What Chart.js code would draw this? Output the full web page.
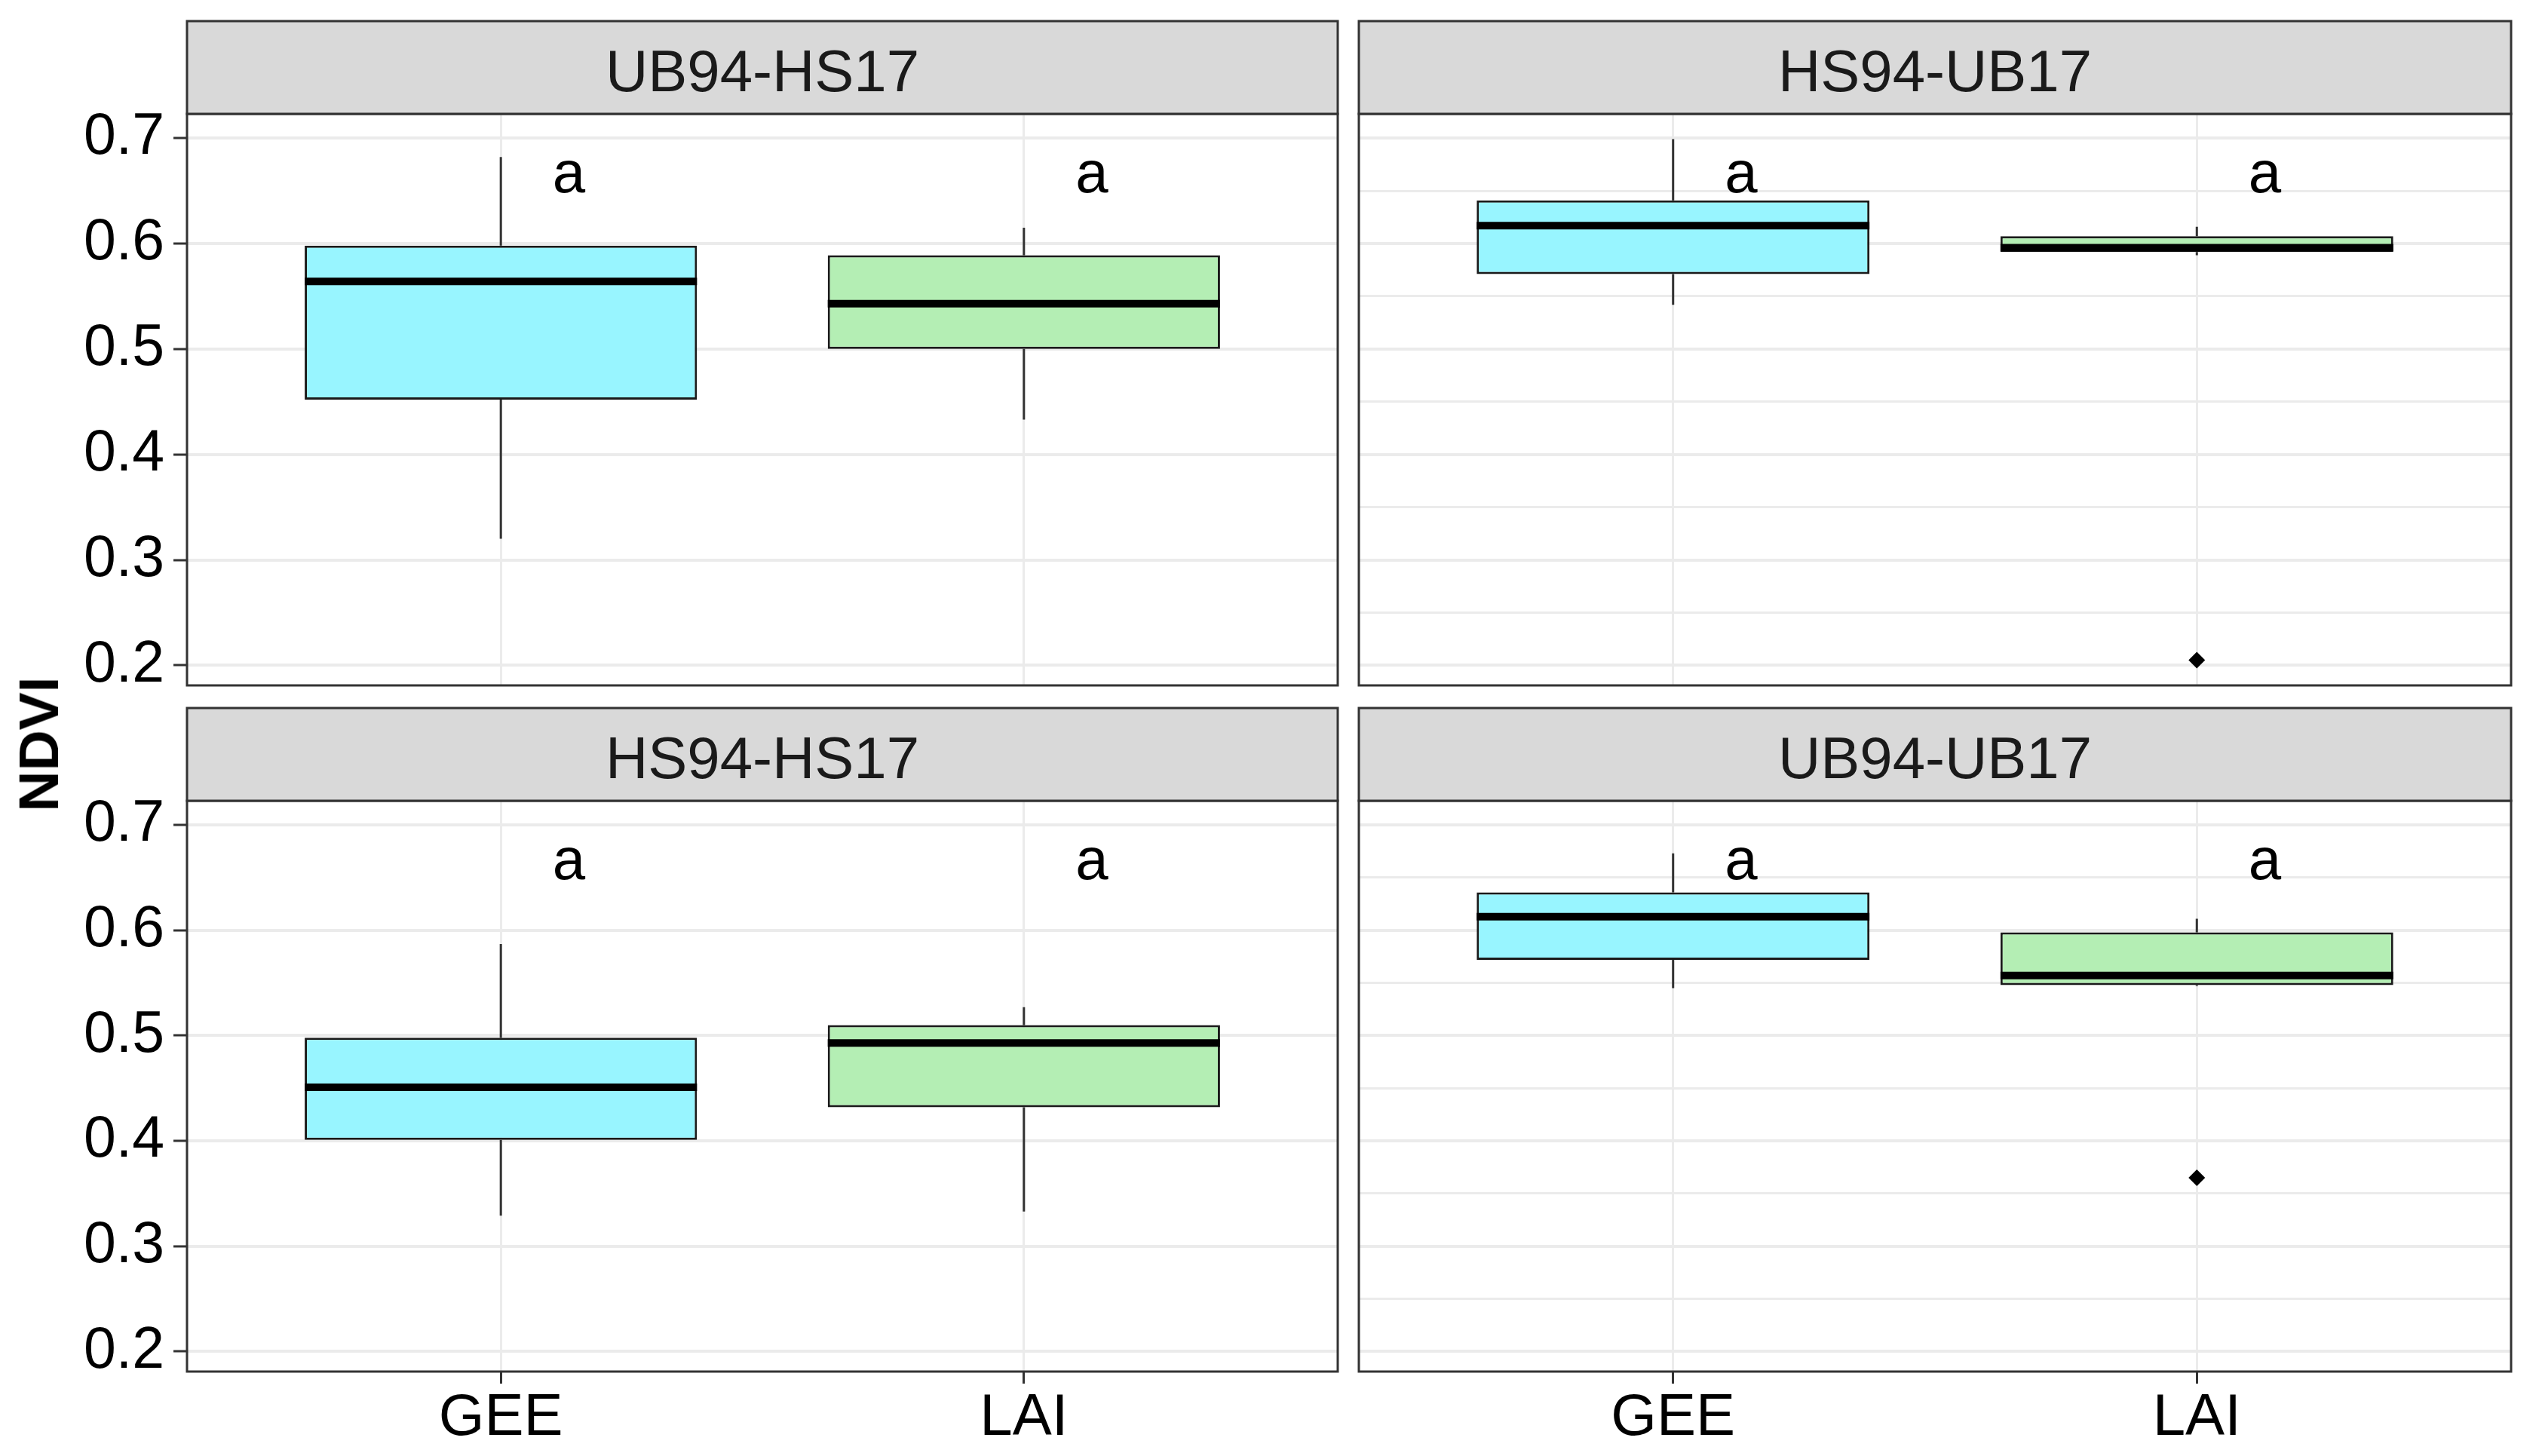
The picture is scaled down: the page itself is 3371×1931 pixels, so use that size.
<!DOCTYPE html>
<html>
<head>
<meta charset="utf-8">
<script src="https://cdn.jsdelivr.net/npm/chart.js@4.4.1/dist/chart.umd.min.js"></script>
<style>
  html, body { margin: 0; padding: 0; background: #fff; }
  #wrap { position: relative; width: 3371px; height: 1931px; overflow: hidden; }
  #wrap canvas { position: absolute; left: 0; top: 0; }
  #ylab {
    position: absolute; left: 51px; top: 987px;
    transform: translate(-50%, -50%) rotate(-90deg);
    font: bold 75px "Liberation Sans", Arial, sans-serif; color: #000; white-space: nowrap;
  }
</style>
</head>
<body>
<div id="wrap">
  <canvas id="p0" width="3371" height="1931"></canvas>
  <canvas id="p1" width="3371" height="1931"></canvas>
  <canvas id="p2" width="3371" height="1931"></canvas>
  <canvas id="p3" width="3371" height="1931"></canvas>
  <div id="ylab">NDVI</div>
</div>
<script>
// datos (un par GEE / LAI por panel)
const panels = ['UB94-HS17', 'HS94-UB17', 'HS94-HS17', 'UB94-UB17'];
const categories = ['GEE', 'LAI'];

const lowerWhisker = [[0.320, 0.433], [0.542, 0.589], [0.329, 0.333], [0.545, 0.547]];
const q1           = [[0.452, 0.500], [0.571, 0.592], [0.401, 0.432], [0.572, 0.548]];
const medians      = [[0.564, 0.543], [0.617, 0.596], [0.451, 0.493], [0.613, 0.557]];
const q3           = [[0.598, 0.589], [0.641, 0.607], [0.498, 0.510], [0.636, 0.598]];
const upperWhisker = [[0.682, 0.615], [0.699, 0.616], [0.587, 0.527], [0.673, 0.611]];
const outliers     = [[[], []], [[], [0.205]], [[], []], [[], [0.365]]];
const letters      = [['a', 'a'], ['a', 'a'], ['a', 'a'], ['a', 'a']];

const yMajorTicks = [0.2, 0.3, 0.4, 0.5, 0.6, 0.7];
const yMinorTicks = [0.25, 0.35, 0.45, 0.55, 0.65];

// estilo
const FONT = '"Liberation Sans", Arial, sans-serif';
const boxFills = ['#98F5FF', '#B4EEB4'];
const BOX_WIDTH = 0.75;
const LETTER_NUDGE = 0.13;
const LETTER_Y = 0.664;
const STRIP_H = 123;
const W = 3371, H = 1931;

// posición de cada panel (área de datos en px)
const layoutBoxes = [
  { left: 248, right: 1774, top: 151, bottom: 909, yAxis: true, xAxis: false },
  { left: 1802, right: 3330, top: 151, bottom: 909, yAxis: false, xAxis: false },
  { left: 248, right: 1774, top: 1062, bottom: 1819, yAxis: true, xAxis: true },
  { left: 1802, right: 3330, top: 1062, bottom: 1819, yAxis: false, xAxis: true }
];

Chart.defaults.font.family = FONT;
Chart.defaults.color = '#000';

// tira gris, borde del panel y letras
const facetDecor = {
  id: 'facetDecor',
  afterDatasetsDraw(chart, args, opts) {
    const { ctx, chartArea: a, scales: { x, y } } = chart;
    ctx.save();
    ctx.font = '78px ' + FONT;
    ctx.fillStyle = '#000';
    ctx.textAlign = 'center';
    ctx.textBaseline = 'middle';
    opts.letters.forEach((t, i) => {
      ctx.fillText(t, x.getPixelForValue(i + 1 + LETTER_NUDGE), y.getPixelForValue(LETTER_Y));
    });
    ctx.strokeStyle = '#333';
    ctx.lineWidth = 3;
    ctx.strokeRect(a.left, a.top, a.width, a.height);
    ctx.fillStyle = '#D9D9D9';
    ctx.fillRect(a.left, a.top - STRIP_H, a.width, STRIP_H);
    ctx.strokeRect(a.left, a.top - STRIP_H, a.width, STRIP_H);
    ctx.fillStyle = '#1A1A1A';
    ctx.fillText(opts.title, (a.left + a.right) / 2, a.top - STRIP_H / 2 + 10);
    ctx.restore();
  }
};

function crearPanel(p) {
  const box = layoutBoxes[p];
  const xs = categories.map((c, i) => i + 1);

  const whiskerPts = [];
  const medianPts = [];
  xs.forEach((c, i) => {
    whiskerPts.push({ x: c, y: q3[p][i] }, { x: c, y: upperWhisker[p][i] }, { x: c, y: null });
    whiskerPts.push({ x: c, y: lowerWhisker[p][i] }, { x: c, y: q1[p][i] }, { x: c, y: null });
    medianPts.push({ x: c - BOX_WIDTH / 2, y: medians[p][i] }, { x: c + BOX_WIDTH / 2, y: medians[p][i] }, { x: c, y: null });
  });
  const outlierPts = [];
  xs.forEach((c, i) => outliers[p][i].forEach(v => outlierPts.push({ x: c, y: v })));

  const yTicks = yMajorTicks.map(v => ({ value: v }))
    .concat(yMinorTicks.map(v => ({ value: v, minor: true })))
    .sort((a, b) => a.value - b.value);

  return new Chart(document.getElementById('p' + p), {
    type: 'bar',
    data: {
      datasets: [
        {
          type: 'line', data: whiskerPts, order: 3,
          borderColor: '#333', borderWidth: 3, pointRadius: 0, spanGaps: false
        },
        {
          type: 'bar', order: 2,
          data: xs.map((c, i) => ({ x: c, y: [q1[p][i], q3[p][i]] })),
          backgroundColor: boxFills, borderColor: '#1A1A1A', borderWidth: 3,
          borderSkipped: false, categoryPercentage: 1, barPercentage: BOX_WIDTH
        },
        {
          type: 'line', data: medianPts, order: 1,
          borderColor: '#000', borderWidth: 10, pointRadius: 0, spanGaps: false
        },
        {
          type: 'scatter', data: outlierPts, order: 0,
          pointStyle: 'rectRot', pointRadius: 11, backgroundColor: '#000', borderWidth: 0
        }
      ]
    },
    options: {
      responsive: false,
      animation: false,
      events: [],
      layout: {
        padding: {
          left: box.yAxis ? 0 : box.left,
          top: box.top,
          right: W - box.right,
          bottom: box.xAxis ? 0 : H - box.bottom
        }
      },
      scales: {
        x: {
          type: 'linear', min: 0.4, max: 2.6, offset: false,
          afterBuildTicks: s => { s.ticks = xs.map(v => ({ value: v })); },
          afterFit: s => { s.height = box.xAxis ? H - box.bottom : 0; },
          border: { display: false },
          grid: {
            offset: false,
            color: '#EBEBEB', lineWidth: 3, drawTicks: box.xAxis,
            tickLength: 16, tickColor: '#333', tickWidth: 3
          },
          ticks: {
            display: box.xAxis, padding: 0, maxRotation: 0,
            font: { size: 78 }, color: '#000',
            callback: v => categories[v - 1]
          }
        },
        y: {
          type: 'linear', min: 0.181, max: 0.723,
          afterBuildTicks: s => { s.ticks = yTicks.map(t => Object.assign({}, t)); },
          afterFit: s => { s.width = box.yAxis ? box.left : 0; },
          border: { display: false },
          grid: {
            color: '#EBEBEB',
            lineWidth: c => (c.tick && c.tick.minor ? 3 : 4),
            drawTicks: box.yAxis, tickLength: 18, tickWidth: 3,
            tickColor: c => (c.tick && c.tick.minor ? 'rgba(0,0,0,0)' : '#333')
          },
          ticks: {
            display: box.yAxis, padding: 12,
            font: { size: 77 }, color: '#000',
            callback: (v, i, ticks) => (ticks[i].minor ? '' : v.toFixed(1))
          }
        }
      },
      plugins: {
        legend: { display: false },
        tooltip: { enabled: false },
        facetDecor: { title: panels[p], letters: letters[p] }
      }
    },
    plugins: [facetDecor]
  });
}

panels.forEach((name, p) => crearPanel(p));
</script>
</body>
</html>
